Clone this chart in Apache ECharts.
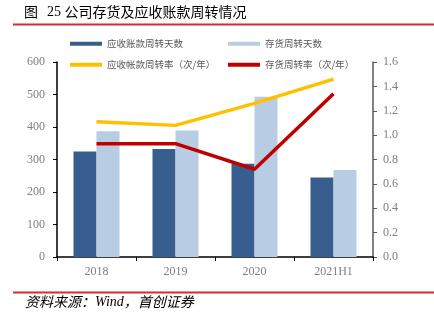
<!DOCTYPE html>
<html><head><meta charset="utf-8">
<script src="https://cdn.jsdelivr.net/npm/echarts@6/dist/echarts.min.js"></script>
<style>html,body{margin:0;padding:0;background:#fff}#c{width:434px;height:322px}</style>
</head><body><div id="c"></div>
<script>
const categories = ['2018', '2019', '2020', '2021H1'];
const arDays = [325, 332, 287, 245];
const invDays = [387, 389, 493, 268];
const arTurnover = [1.11, 1.08, 1.26, 1.46];
const invTurnover = [0.93, 0.93, 0.72, 1.34];
const leftTicks = [0, 100, 200, 300, 400, 500, 600];
const rightTicks = [0, 0.2, 0.4, 0.6, 0.8, 1.0, 1.2, 1.4, 1.6];
const names = ['应收账款周转天数', '存货周转天数', '应收帐款周转率（次/年）', '存货周转率（次/年）'];

const chart = echarts.init(document.getElementById('c'));
const serif = '"Liberation Serif", "DejaVu Serif", serif';
const cjk = '"Noto Sans CJK SC", sans-serif';
const legText = { color: '#595959', fontSize: 9.5, fontFamily: cjk };
function leg(name, left, top) {
  return { data: [{ name: name, icon: 'rect' }], left: left, top: top, itemWidth: 32, itemHeight: 4, itemGap: 0, textStyle: legText, padding: 0 };
}
chart.setOption({
  animation: false,
  legend: [leg(names[0], 70, 39), leg(names[1], 228, 39), leg(names[2], 70, 60), leg(names[3], 228, 60)],
  grid: { left: 57, right: 61, top: 62, bottom: 65 },
  xAxis: {
    type: 'category', data: categories,
    axisLine: { lineStyle: { color: '#000', width: 1.5 } },
    axisTick: { show: true, length: 4, lineStyle: { color: '#000' } },
    axisLabel: { color: '#7f7f7f', fontFamily: serif, fontSize: 12, margin: 9 }
  },
  yAxis: [
    { type: 'value', min: 0, max: 600, interval: 100,
      axisLine: { show: true, lineStyle: { color: '#000', width: 1.5 } },
      axisTick: { show: true, length: 4, lineStyle: { color: '#000' } },
      splitLine: { show: false },
      axisLabel: { color: '#7f7f7f', fontFamily: serif, fontSize: 12, margin: 12,
        formatter: v => leftTicks.includes(v) ? String(v) : '' } },
    { type: 'value', min: 0, max: 1.6, interval: 0.2,
      axisLine: { show: true, lineStyle: { color: '#595959', width: 1.5 } },
      axisTick: { show: true, length: 4, lineStyle: { color: '#595959' } },
      splitLine: { show: false },
      axisLabel: { color: '#7f7f7f', fontFamily: serif, fontSize: 12, margin: 10,
        formatter: v => { const t = rightTicks.find(r => Math.abs(r - v) < 1e-6); return t === undefined ? '' : t.toFixed(1); } } }
  ],
  series: [
    { name: names[0], type: 'bar', data: arDays, barWidth: 23, barGap: '0%', itemStyle: { color: '#375E8F' } },
    { name: names[1], type: 'bar', data: invDays, barWidth: 23, barGap: '0%', itemStyle: { color: '#B8CCE4' } },
    { name: names[2], type: 'line', yAxisIndex: 1, data: arTurnover, symbol: 'none', lineStyle: { color: '#FFC000', width: 3.5 }, itemStyle: { color: '#FFC000' } },
    { name: names[3], type: 'line', yAxisIndex: 1, data: invTurnover, symbol: 'none', lineStyle: { color: '#C00000', width: 3.5 }, itemStyle: { color: '#C00000' } }
  ],
  graphic: [
    { type: 'text', left: 24, top: 5, style: {
      text: '{a|图}{b|25 }{a|公司存货及应收账款周转情况}',
      rich: {
        a: { fontSize: 14, fontFamily: cjk, fill: '#000' },
        b: { fontSize: 14, fontFamily: serif, fill: '#000', padding: [0, 0, 0, 9] }
      } } },
    { type: 'rect', shape: { x: 13, y: 23.5, width: 421, height: 2 }, style: { fill: '#D52B2B' } },
    { type: 'rect', shape: { x: 13, y: 291.5, width: 421, height: 2 }, style: { fill: '#D52B2B' } },
    { type: 'text', left: 25, top: 295, style: {
      text: '{a|资料来源：}{b|Wind}{a|，首创证券}',
      rich: {
        a: { fontSize: 14, fontStyle: 'italic', fontFamily: cjk, fill: '#000' },
        b: { fontSize: 14, fontStyle: 'italic', fontFamily: serif, fill: '#000' }
      } } }
  ]
});
</script></body></html>
